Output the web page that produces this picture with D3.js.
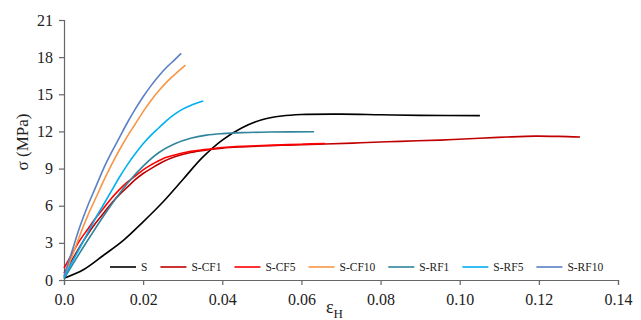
<!DOCTYPE html>
<html>
<head>
<meta charset="utf-8">
<script src="https://cdn.jsdelivr.net/npm/d3@7"></script>
<style>
  body { margin: 0; background: #fff; }
  text { font-family: "Times New Roman", "Liberation Serif", serif; fill: #222; }
</style>
</head>
<body>
<svg id="chart" width="641" height="320"></svg>
<script>

// Series names and colours, in legend order.
var names = ['S', 'S-CF1', 'S-CF5', 'S-CF10', 'S-RF1', 'S-RF5', 'S-RF10'];
var colors = ['#000000', '#c00000', '#ff0000', '#f79646', '#31849b',
  '#00b0f0', '#5a80c6'];

// Strain / stress pairs.
var sS = [[0, 0.15], [0.005, 0.85], [0.01, 2.0], [0.015, 3.2], [0.02, 4.7],
  [0.025, 6.3], [0.03, 8.1], [0.035, 9.9], [0.04, 11.3], [0.045, 12.3],
  [0.05, 12.95], [0.055, 13.25], [0.06, 13.37], [0.07, 13.4], [0.08, 13.35],
  [0.09, 13.3], [0.1051, 13.28]];
var sCF1 = [[0, 0.55], [0.002, 1.6], [0.004, 2.7], [0.006, 3.7], [0.008, 4.6],
  [0.01, 5.4], [0.012, 6.2], [0.014, 6.9], [0.016, 7.5], [0.018, 8.1],
  [0.02, 8.6], [0.022, 9.0], [0.025, 9.55], [0.028, 9.95], [0.032, 10.3],
  [0.036, 10.5], [0.04, 10.65], [0.045, 10.75], [0.05, 10.82], [0.055, 10.88],
  [0.06, 10.93], [0.066, 10.98], [0.075, 11.08], [0.085, 11.2], [0.095, 11.3],
  [0.105, 11.45], [0.112, 11.55], [0.119, 11.62], [0.125, 11.6],
  [0.1304, 11.55]];
var sCF5 = [[0, 0.95], [0.002, 2.1], [0.004, 3.2], [0.006, 4.1], [0.008, 5.0],
  [0.01, 5.8], [0.012, 6.6], [0.014, 7.3], [0.016, 7.9], [0.018, 8.4],
  [0.02, 8.9], [0.022, 9.3], [0.025, 9.8], [0.028, 10.1], [0.032, 10.4],
  [0.036, 10.55], [0.04, 10.7], [0.045, 10.8], [0.05, 10.86], [0.055, 10.92],
  [0.06, 10.97], [0.066, 11.03]];
var sCF10 = [[0, 0.2], [0.002, 1.9], [0.004, 3.6], [0.006, 5.2], [0.008, 6.6],
  [0.01, 8.0], [0.012, 9.3], [0.014, 10.5], [0.016, 11.6], [0.018, 12.6],
  [0.02, 13.6], [0.022, 14.5], [0.024, 15.3], [0.026, 16.0], [0.028, 16.6],
  [0.0307, 17.35]];
var sRF1 = [[0, 0.1], [0.004, 2.2], [0.008, 4.2], [0.012, 6.1],
  [0.016, 7.8], [0.02, 9.2], [0.024, 10.3], [0.028, 11.0], [0.032, 11.45],
  [0.036, 11.7], [0.04, 11.82], [0.045, 11.9], [0.052, 11.95],
  [0.0632, 11.97]];
var sRF5 = [[0, 0.2], [0.002, 1.4], [0.004, 2.6], [0.006, 3.8], [0.008, 5.0],
  [0.01, 6.1], [0.012, 7.2], [0.014, 8.3], [0.016, 9.3], [0.018, 10.2],
  [0.02, 11.0], [0.022, 11.7], [0.024, 12.3], [0.026, 12.9], [0.028, 13.4],
  [0.03, 13.8], [0.032, 14.1], [0.0352, 14.45]];
var sRF10 = [[0, 0.3], [0.002, 2.3], [0.004, 4.3], [0.006, 6.0], [0.008, 7.5],
  [0.01, 9.0], [0.012, 10.3], [0.014, 11.5], [0.016, 12.7], [0.018, 13.8],
  [0.02, 14.8], [0.022, 15.7], [0.024, 16.5], [0.026, 17.2], [0.028, 17.8],
  [0.0296, 18.3]];

var xTicks = [0, 0.02, 0.04, 0.06, 0.08, 0.1, 0.12, 0.14];
var xTickLabels = ['0.0', '0.02', '0.04', '0.06', '0.08', '0.10', '0.12',
  '0.14'];
var yTicks = [0, 3, 6, 9, 12, 15, 18, 21];

var series = [sS, sCF1, sCF5, sCF10, sRF1, sRF5, sRF10];

var font = '"Times New Roman", "Liberation Serif", serif';
var svg = d3.select('#chart');

var x = d3.scaleLinear().domain([0, 0.14]).range([64, 618]);
var y = d3.scaleLinear().domain([0, 21]).range([280, 20]);

// Axes.
var xAxis = svg.append('g')
  .attr('transform', 'translate(0,280)')
  .call(d3.axisBottom(x).tickValues(xTicks).tickSizeOuter(0).tickSize(5)
    .tickFormat(function(d, i) { return xTickLabels[i]; }));

var yAxis = svg.append('g')
  .attr('transform', 'translate(64,0)')
  .call(d3.axisLeft(y).tickValues(yTicks).tickSizeOuter(0).tickSize(5)
    .tickFormat(d3.format('d')));

[xAxis, yAxis].forEach(function(a) {
  a.attr('font-family', font);
  a.selectAll('path, line').attr('stroke', '#666').attr('stroke-width', 1.2);
  a.selectAll('text').style('font-size', '16px')
    .style('font-family', font).attr('fill', '#222');
});
xAxis.selectAll('text').attr('dy', '1.05em');
yAxis.selectAll('text').attr('x', -11);

// Curves.
var line = d3.line()
  .x(function(d) { return x(d[0]); })
  .y(function(d) { return y(d[1]); })
  .curve(d3.curveCatmullRom.alpha(0.5));

svg.append('g').selectAll('path')
  .data(series)
  .enter().append('path')
  .attr('d', line)
  .attr('fill', 'none')
  .attr('stroke', function(d, i) { return colors[i]; })
  .attr('stroke-width', 1.6);

// Legend along the bottom of the plot.
var legend = svg.append('g').attr('transform', 'translate(110,267)');
var lx = 0;
names.forEach(function(name, i) {
  legend.append('line')
    .attr('x1', lx).attr('x2', lx + 26).attr('y1', 0).attr('y2', 0)
    .attr('stroke', colors[i]).attr('stroke-width', 1.6);
  var t = legend.append('text')
    .attr('x', lx + 31).attr('y', 4)
    .style('font-size', '11.5px')
    .text(name);
  lx += 31 + t.node().getComputedTextLength() + 13;
});

// Axis titles.
svg.append('text')
  .attr('transform', 'translate(28,142) rotate(-90)')
  .attr('text-anchor', 'middle')
  .style('font-size', '17px')
  .text('σ (MPa)');

var xt = svg.append('text')
  .attr('x', 326).attr('y', 313)
  .style('font-size', '18px')
  .text('ε');
xt.append('tspan')
  .attr('dy', 5)
  .style('font-size', '13px')
  .text('H');

</script>
</body>
</html>
